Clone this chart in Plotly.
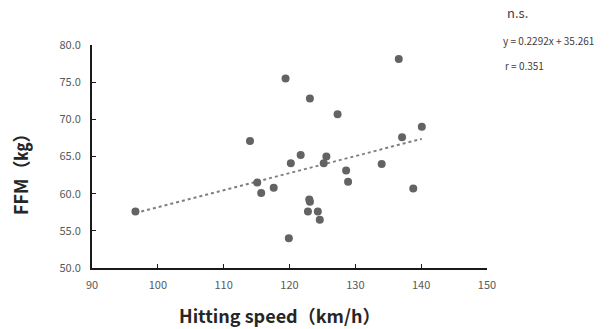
import plotly.graph_objects as go

hitting_speed = [96.6, 114.0, 115.1, 115.7, 117.6, 119.4, 119.9, 120.2, 121.7, 123.1,
                 123.0, 123.1, 122.8, 124.3, 124.6, 125.2, 125.6, 127.3, 128.6, 128.9,
                 134.0, 136.6, 137.1, 138.8, 140.1]
ffm = [57.6, 67.1, 61.5, 60.1, 60.8, 75.5, 54.0, 64.1, 65.2, 72.8,
       59.2, 58.9, 57.6, 57.6, 56.5, 64.1, 65.0, 70.7, 63.1, 61.6,
       64.0, 78.1, 67.6, 60.7, 69.0]
slope = 0.2292
intercept = 35.261
x_ticks = [90, 100, 110, 120, 130, 140, 150]
y_ticks = [50, 55, 60, 65, 70, 75, 80]

x_fit = [min(hitting_speed), max(hitting_speed)]
y_fit = [slope * v + intercept for v in x_fit]

fig = go.Figure()
fig.add_trace(go.Scatter(x=x_fit, y=y_fit, mode="lines",
                         line=dict(color="#7f7f7f", width=2, dash="dot"),
                         hoverinfo="skip", showlegend=False))
fig.add_trace(go.Scatter(x=hitting_speed, y=ffm, mode="markers",
                         marker=dict(color="#636363", size=8),
                         showlegend=False))

font_main = "Noto Sans CJK JP, Noto Sans, sans-serif"
fig.update_layout(
    width=609, height=329,
    margin=dict(l=92, r=122, t=45, b=61),
    paper_bgcolor="white", plot_bgcolor="white",
    font=dict(family=font_main, color="#595959"),
    xaxis=dict(range=[90, 150], tickvals=x_ticks, showgrid=False, zeroline=False,
               showline=True, linecolor="#1a1a1a", linewidth=2,
               ticks="inside", ticklen=4, tickcolor="#1a1a1a", tickwidth=1,
               ticklabelstandoff=6,
               tickfont=dict(size=11, color="#595959")),
    yaxis=dict(range=[50, 80], tickvals=y_ticks, tickformat=".1f", showgrid=False,
               zeroline=False, showline=True, linecolor="#1a1a1a", linewidth=2,
               ticks="inside", ticklen=4, tickcolor="#1a1a1a", tickwidth=1,
               ticklabelstandoff=7,
               tickfont=dict(size=11, color="#595959")),
    annotations=[
        dict(text="<b>Hitting speed（km/h）</b>", xref="paper", yref="paper",
             x=0.475, y=-0.211, xanchor="center", yanchor="middle", showarrow=False,
             font=dict(size=18, color="#262626")),
        dict(text="<b>FFM（㎏）</b>", xref="paper", yref="paper", textangle=-90,
             x=-0.182, y=0.44, xanchor="center", yanchor="middle", showarrow=False,
             font=dict(size=18, color="#262626")),
        dict(text="n.s.", xref="paper", yref="paper", x=1.045, y=1.145,
             xanchor="left", yanchor="middle", showarrow=False,
             font=dict(size=13, color="#404040")),
        dict(text="y = 0.2292x + 35.261", xref="paper", yref="paper", x=1.035, y=1.022,
             xanchor="left", yanchor="middle", showarrow=False,
             font=dict(size=10, color="#404040")),
        dict(text="r = 0.351", xref="paper", yref="paper", x=1.040, y=0.906,
             xanchor="left", yanchor="middle", showarrow=False,
             font=dict(size=10, color="#404040")),
    ],
)

fig.write_html("out.html",
               config={"displayModeBar": False},
               post_script="document.body.style.margin='0';document.body.style.overflow='hidden';")
